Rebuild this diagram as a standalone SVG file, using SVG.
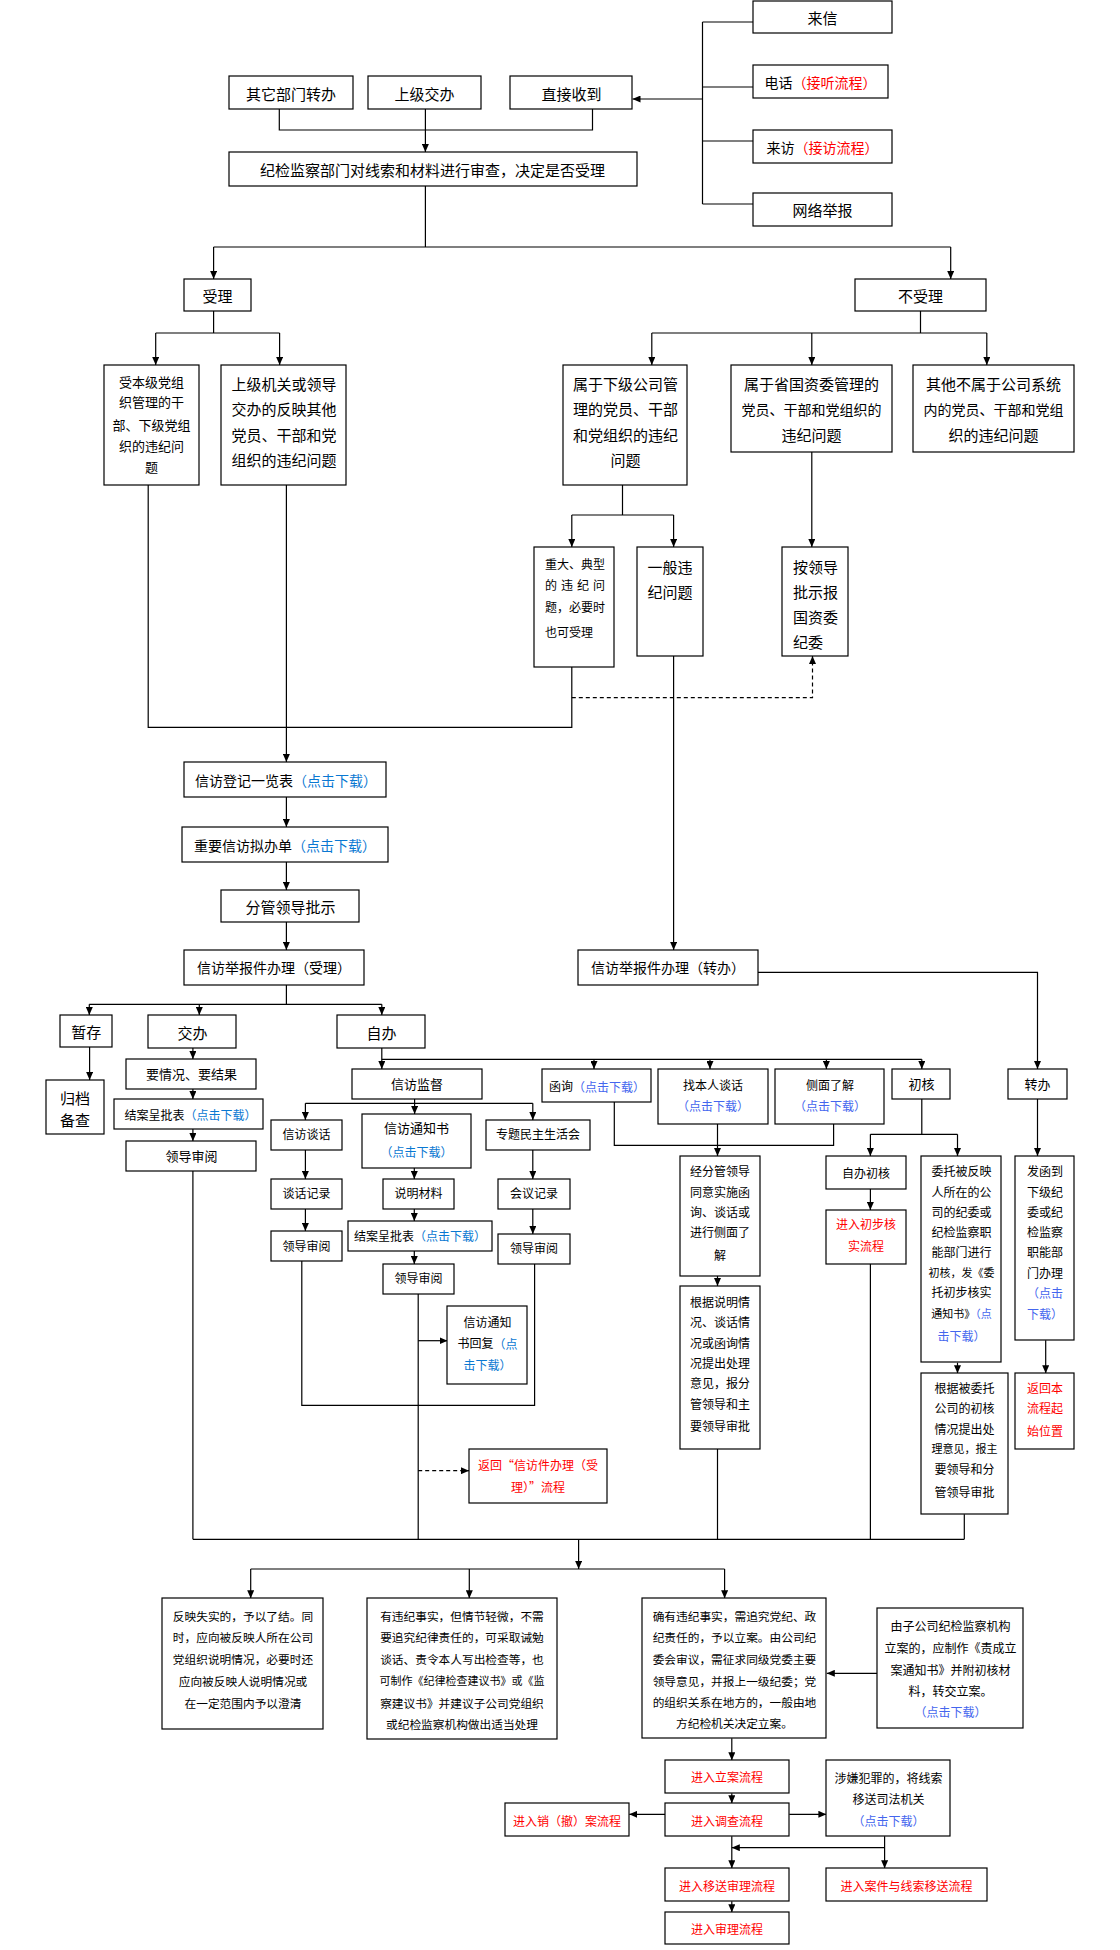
<svg xmlns="http://www.w3.org/2000/svg" width="1120" height="1950" viewBox="0 0 1120 1950">
<style>
.b{fill:#fff;stroke:#000;stroke-width:1.2}
.c{fill:none;stroke:#000;stroke-width:1.2}
.a{marker-end:url(#ah)}
.d{stroke-dasharray:4 3}
text{font-family:"Noto Sans CJK SC","Microsoft YaHei",sans-serif;fill:#000;dominant-baseline:central;text-anchor:middle}
.l{text-anchor:start}
.s15{font-size:15px}.s14{font-size:14px}.s13{font-size:13px}.s12{font-size:12px}.s11{font-size:11.7px}.s10{font-size:11px}
.r{fill:#f00}.u{fill:#0a78d2}.v{fill:#4466ee}
</style>
<defs>
<marker id="ah" viewBox="0 0 10 10" refX="10" refY="5" markerWidth="8" markerHeight="7" markerUnits="userSpaceOnUse" orient="auto" preserveAspectRatio="none"><path d="M0,0 L10,5 L0,10 z" fill="#000"/></marker>
</defs>
<rect width="1120" height="1950" fill="#fff"/>

<g id="connectors">
<path class="c" d="M702.5,22 V204 M702.5,22 H753 M702.5,87 H753 M702.5,141 H753 M702.5,204 H753"/>
<path class="c a" d="M702.5,99 H632.5"/>
<path class="c" d="M279.3,109 V130 H592.5 V109"/>
<path class="c a" d="M425.4,109 V152"/>
<path class="c" d="M425.4,186 V247 M213.6,247 H950.7"/>
<path class="c a" d="M213.6,247 V279"/>
<path class="c a" d="M950.7,247 V279"/>
<path class="c" d="M213.6,311 V333 M155.7,333 H279.6"/>
<path class="c a" d="M155.7,333 V365"/>
<path class="c a" d="M279.6,333 V365"/>
<path class="c" d="M920.5,311 V333 M651.8,333 H986.8"/>
<path class="c a" d="M651.8,333 V365"/>
<path class="c a" d="M811.8,333 V365"/>
<path class="c a" d="M986.8,333 V365"/>
<path class="c" d="M622.5,485 V515 M571.8,515 H673.6"/>
<path class="c a" d="M571.8,515 V547"/>
<path class="c a" d="M673.6,515 V547"/>
<path class="c a" d="M811.8,452 V547"/>
<path class="c" d="M148.2,485 V727.3 H571.8 V667"/>
<path class="c d a" d="M571.8,697.7 H812.5 V656"/>
<path class="c a" d="M286.4,485 V762"/>
<path class="c a" d="M286.4,797 V827"/>
<path class="c a" d="M286.4,862 V890"/>
<path class="c a" d="M286.4,922 V950"/>
<path class="c a" d="M673.6,656 V950"/>
<path class="c a" d="M758,972.3 H1037.5 V1069"/>
<path class="c" d="M286.4,985 V1004.3 M89.3,1004.3 H381.8"/>
<path class="c a" d="M89.3,1004.3 V1015"/>
<path class="c a" d="M199.3,1004.3 V1015"/>
<path class="c a" d="M381.8,1004.3 V1015"/>
<path class="c a" d="M89.6,1047 V1080"/>
<path class="c a" d="M192.9,1048 V1059"/>
<path class="c a" d="M192.9,1089 V1099"/>
<path class="c a" d="M192.9,1129 V1141"/>
<path class="c" d="M192.9,1171 V1539.3"/>
<path class="c a" d="M381.8,1048 V1069"/>
<path class="c" d="M381.8,1059.3 H921.8"/>
<path class="c a" d="M594,1059.3 V1069"/>
<path class="c a" d="M710,1059.3 V1069"/>
<path class="c a" d="M826.4,1059.3 V1069"/>
<path class="c a" d="M921.8,1059.3 V1069"/>
<path class="c" d="M414.6,1099 V1103.3 M305.4,1103.3 H532.8"/>
<path class="c a" d="M305.4,1103.3 V1120"/>
<path class="c a" d="M414.6,1103.3 V1114"/>
<path class="c a" d="M532.8,1103.3 V1120"/>
<path class="c a" d="M305.4,1150 V1179"/>
<path class="c a" d="M414.3,1168 V1179"/>
<path class="c a" d="M532.8,1150 V1179"/>
<path class="c a" d="M305.4,1209 V1231"/>
<path class="c a" d="M414.3,1209 V1221"/>
<path class="c a" d="M532.8,1209 V1234"/>
<path class="c a" d="M414.3,1251 V1264"/>
<path class="c" d="M301.8,1261 V1405.3 H534.6 V1264"/>
<path class="c" d="M418.2,1294 V1539.3"/>
<path class="c a" d="M418.2,1340.7 H447.5"/>
<path class="c d a" d="M418.2,1470.7 H469"/>
<path class="c" d="M614.3,1102 V1145.3 H833.6 V1124"/>
<path class="c a" d="M717.5,1124 V1156"/>
<path class="c a" d="M717.5,1276 V1286"/>
<path class="c" d="M717.5,1449 V1539.3"/>
<path class="c" d="M921.8,1099 V1134.3 M870.4,1134.3 H957.5"/>
<path class="c a" d="M870.4,1134.3 V1156"/>
<path class="c a" d="M957.5,1134.3 V1156"/>
<path class="c a" d="M870.4,1189 V1210"/>
<path class="c" d="M870.4,1264 V1539.3"/>
<path class="c a" d="M957.5,1362.7 V1373.3"/>
<path class="c" d="M964.3,1514.3 V1539.3"/>
<path class="c a" d="M1037.5,1099 V1156"/>
<path class="c a" d="M1045.7,1340.3 V1373.3"/>
<path class="c" d="M192.9,1539.3 H964.3"/>
<path class="c a" d="M578.6,1539.3 V1569"/>
<path class="c" d="M250.7,1569 H724.6"/>
<path class="c a" d="M250.7,1569 V1598.3"/>
<path class="c a" d="M469.3,1569 V1598.3"/>
<path class="c a" d="M724.6,1569 V1598.3"/>
<path class="c a" d="M877.5,1673.3 H826.8"/>
<path class="c a" d="M731.8,1738.3 V1760.3"/>
<path class="c a" d="M731.8,1793.3 V1803.3"/>
<path class="c a" d="M665.4,1814.3 H629.3"/>
<path class="c a" d="M789.3,1814.3 H826.4"/>
<path class="c a" d="M731.8,1836.3 V1868.3"/>
<path class="c a" d="M884.6,1836.3 V1868.3"/>
<path class="c a" d="M884.6,1847.7 H731.8"/>
<path class="c a" d="M731.8,1901.3 V1912.3"/>
</g>

<g id="n_laixin"><rect class="b" x="753" y="1" width="139" height="32"/><text class="s15" x="822.5" y="17">来信</text></g>
<g id="n_dianhua"><rect class="b" x="753" y="65" width="135" height="33"/><text class="s14" x="820.5" y="82">电话<tspan class="r">（接听流程）</tspan></text></g>
<g id="n_laifang"><rect class="b" x="753" y="130" width="139" height="33"/><text class="s14" x="822.5" y="147">来访<tspan class="r">（接访流程）</tspan></text></g>
<g id="n_wangluo"><rect class="b" x="753" y="193" width="139" height="33"/><text class="s15" x="822.5" y="209.5">网络举报</text></g>
<g id="n_qita"><rect class="b" x="229" y="76" width="124" height="33"/><text class="s15" x="291" y="93">其它部门转办</text></g>
<g id="n_shangji"><rect class="b" x="368" y="76" width="113" height="33"/><text class="s15" x="424.5" y="93">上级交办</text></g>
<g id="n_zhijie"><rect class="b" x="510" y="76" width="122" height="33"/><text class="s15" x="571.5" y="93">直接收到</text></g>
<g id="n_shencha"><rect class="b" x="229" y="152" width="408" height="34"/><text class="s15" x="432.5" y="169">纪检监察部门对线索和材料进行审查，决定是否受理</text></g>
<g id="n_shouli"><rect class="b" x="184" y="279" width="67" height="32"/><text class="s15" x="217.5" y="295.3">受理</text></g>
<g id="n_bushouli"><rect class="b" x="855" y="279" width="131" height="32"/><text class="s15" x="920.5" y="295.3">不受理</text></g>

<g id="n_benji"><rect class="b" x="104" y="365" width="95" height="120"/>
<text class="s13" x="151.5" y="381.7">受本级党组</text><text class="s13" x="151.5" y="401.7">织管理的干</text><text class="s13" x="151.5" y="424.3">部、下级党组</text><text class="s13" x="151.5" y="445">织的违纪问</text><text class="s13" x="151.5" y="466.7">题</text></g>
<g id="n_shangjijiguan"><rect class="b" x="221" y="365" width="125" height="120"/>
<text class="s15" x="284" y="383">上级机关或领导</text><text class="s15" x="284" y="408.5">交办的反映其他</text><text class="s15" x="284" y="434">党员、干部和党</text><text class="s15" x="284" y="459">组织的违纪问题</text></g>
<g id="n_xiaji"><rect class="b" x="563" y="365" width="124" height="120"/>
<text class="s15" x="625.5" y="383">属于下级公司管</text><text class="s15" x="625.5" y="408.5">理的党员、干部</text><text class="s15" x="625.5" y="434">和党组织的违纪</text><text class="s15" x="625.5" y="459">问题</text></g>
<g id="n_sheng"><rect class="b" x="731" y="365" width="161" height="87"/>
<text class="s15" x="811.5" y="383">属于省国资委管理的</text><text class="s14" x="811.5" y="408.5">党员、干部和党组织的</text><text class="s15" x="811.5" y="434">违纪问题</text></g>
<g id="n_qitabushu"><rect class="b" x="913" y="365" width="161" height="87"/>
<text class="s15" x="993.5" y="383">其他不属于公司系统</text><text class="s14" x="993.5" y="408.5">内的党员、干部和党组</text><text class="s15" x="993.5" y="434">织的违纪问题</text></g>
<g id="n_zhongda"><rect class="b" x="534" y="547" width="80" height="120"/>
<text class="s12 l" x="545" y="563" textLength="60" lengthAdjust="spacing">重大、典型</text><text class="s12 l" x="545" y="584.5" textLength="60" lengthAdjust="spacing">的 违 纪 问</text><text class="s12 l" x="545" y="606" textLength="60" lengthAdjust="spacing">题，必要时</text><text class="s12 l" x="545" y="631">也可受理</text></g>
<g id="n_yiban"><rect class="b" x="637" y="547" width="66" height="109"/>
<text class="s15 l" x="647.5" y="566">一般违</text><text class="s15 l" x="647.5" y="591">纪问题</text></g>
<g id="n_anlingdao"><rect class="b" x="782" y="547" width="66" height="109"/>
<text class="s15 l" x="793" y="566">按领导</text><text class="s15 l" x="793" y="591">批示报</text><text class="s15 l" x="793" y="616">国资委</text><text class="s15 l" x="793" y="641">纪委</text></g>

<g id="n_dengji"><rect class="b" x="184" y="762" width="202" height="35"/><text class="s14" x="286" y="780">信访登记一览表<tspan class="u">（点击下载）</tspan></text></g>
<g id="n_nibandan"><rect class="b" x="182" y="827" width="206" height="35"/><text class="s14" x="285" y="845">重要信访拟办单<tspan class="u">（点击下载）</tspan></text></g>
<g id="n_pishi"><rect class="b" x="221" y="890" width="138" height="32"/><text class="s15" x="290.5" y="906.7">分管领导批示</text></g>
<g id="n_banli_shouli"><rect class="b" x="184" y="950" width="180" height="35"/><text class="s14" x="274" y="967.3">信访举报件办理（受理）</text></g>
<g id="n_banli_zhuanban"><rect class="b" x="578" y="950" width="180" height="35"/><text class="s14" x="668" y="967.3">信访举报件办理（转办）</text></g>

<g id="n_zancun"><rect class="b" x="60" y="1015" width="52" height="32"/><text class="s15" x="86.3" y="1031.7">暂存</text></g>
<g id="n_jiaoban"><rect class="b" x="148" y="1015" width="88" height="33"/><text class="s15" x="192.5" y="1032">交办</text></g>
<g id="n_ziban"><rect class="b" x="337" y="1015" width="88" height="33"/><text class="s15" x="381.6" y="1032">自办</text></g>
<g id="n_guidang"><rect class="b" x="46" y="1080" width="58" height="54"/><text class="s15 l" x="60" y="1097">归档</text><text class="s15 l" x="60" y="1119">备查</text></g>
<g id="n_yaoqingkuang"><rect class="b" x="126" y="1059" width="130" height="30"/><text class="s13" x="191.5" y="1073.5">要情况、要结果</text></g>
<g id="n_jiean1"><rect class="b" x="114" y="1099" width="149" height="30"/><text class="s12" x="190.5" y="1114">结案呈批表<tspan class="u">（点击下载）</tspan></text></g>
<g id="n_shenyue0"><rect class="b" x="126" y="1141" width="130" height="30"/><text class="s13" x="191.5" y="1155.5">领导审阅</text></g>

<g id="n_jiandu"><rect class="b" x="352" y="1069" width="130" height="30"/><text class="s13" x="417" y="1083.5">信访监督</text></g>
<g id="n_tanhua"><rect class="b" x="271" y="1120" width="71" height="30"/><text class="s12" x="306.5" y="1133.5">信访谈话</text></g>
<g id="n_tongzhishu"><rect class="b" x="362" y="1114" width="109" height="54"/><text class="s13" x="416.5" y="1127.7">信访通知书</text><text class="s12 u" x="416.5" y="1151.3">（点击下载）</text></g>
<g id="n_minzhu"><rect class="b" x="486" y="1120" width="104" height="30"/><text class="s12" x="538" y="1133.5">专题民主生活会</text></g>
<g id="n_tanhuajilu"><rect class="b" x="271" y="1179" width="71" height="30"/><text class="s12" x="306.5" y="1192.7">谈话记录</text></g>
<g id="n_shuoming"><rect class="b" x="383" y="1179" width="71" height="30"/><text class="s12" x="418.5" y="1192.7">说明材料</text></g>
<g id="n_huiyi"><rect class="b" x="498" y="1179" width="72" height="30"/><text class="s12" x="534" y="1192.7">会议记录</text></g>
<g id="n_shenyue1"><rect class="b" x="271" y="1231" width="71" height="30"/><text class="s12" x="306.5" y="1245">领导审阅</text></g>
<g id="n_jiean2"><rect class="b" x="348" y="1221" width="144" height="30"/><text class="s12" x="420" y="1235">结案呈批表<tspan class="u">（点击下载）</tspan></text></g>
<g id="n_shenyue3"><rect class="b" x="498" y="1234" width="72" height="30"/><text class="s12" x="534" y="1247.3">领导审阅</text></g>
<g id="n_shenyue2"><rect class="b" x="383" y="1264" width="71" height="30"/><text class="s12" x="418.5" y="1277.3">领导审阅</text></g>
<g id="n_huifu"><rect class="b" x="447" y="1306" width="80" height="78"/><text class="s12" x="487.5" y="1321">信访通知</text><text class="s12" x="487.5" y="1342.7">书回复<tspan class="u">（点</tspan></text><text class="s12 u" x="487.5" y="1364.3">击下载）</text></g>
<g id="n_fanhui1"><rect class="b" x="469" y="1449" width="138" height="54"/><text class="s12 r" x="538" y="1464">返回“信访件办理（受</text><text class="s12 r" x="538" y="1486">理）”流程</text></g>

<g id="n_hanxun"><rect class="b" x="542" y="1069" width="109" height="33"/><text class="s12" x="597" y="1085.7">函询<tspan class="v">（点击下载）</tspan></text></g>
<g id="n_zhaoben"><rect class="b" x="658" y="1069" width="110" height="55"/><text class="s12" x="713" y="1084">找本人谈话</text><text class="s12 v" x="713" y="1105">（点击下载）</text></g>
<g id="n_cemian"><rect class="b" x="775" y="1069" width="109" height="55"/><text class="s12" x="830" y="1084">侧面了解</text><text class="s12 v" x="830" y="1105">（点击下载）</text></g>
<g id="n_chuhe"><rect class="b" x="892" y="1069" width="58" height="30"/><text class="s13" x="921.5" y="1083.5">初核</text></g>
<g id="n_zhuanban"><rect class="b" x="1008" y="1069" width="59" height="30"/><text class="s13" x="1037.5" y="1083.5">转办</text></g>
<g id="n_jingfenguan"><rect class="b" x="680" y="1156" width="80" height="120"/>
<text class="s12" x="720" y="1170.7">经分管领导</text><text class="s12" x="720" y="1191.7">同意实施函</text><text class="s12" x="720" y="1211.7">询、谈话或</text><text class="s12" x="720" y="1231.7">进行侧面了</text><text class="s12" x="720" y="1254.3">解</text></g>
<g id="n_genjushuoming"><rect class="b" x="680" y="1286" width="80" height="163"/>
<text class="s12" x="720" y="1301">根据说明情</text><text class="s12" x="720" y="1321.5">况、谈话情</text><text class="s12" x="720" y="1342">况或函询情</text><text class="s12" x="720" y="1362">况提出处理</text><text class="s12" x="720" y="1382">意见，报分</text><text class="s12" x="720" y="1403">管领导和主</text><text class="s12" x="720" y="1425.7">要领导审批</text></g>
<g id="n_zibanchuhe"><rect class="b" x="826" y="1156" width="80" height="33"/><text class="s12" x="866" y="1172.7">自办初核</text></g>
<g id="n_chubuhesh"><rect class="b" x="826" y="1210" width="80" height="54"/><text class="s12 r" x="866" y="1223.3">进入初步核</text><text class="s12 r" x="866" y="1245">实流程</text></g>
<g id="n_weituo"><rect class="b" x="921" y="1156" width="80" height="206"/>
<text class="s12" x="961.5" y="1170.7">委托被反映</text><text class="s12" x="961.5" y="1191.2">人所在的公</text><text class="s12" x="961.5" y="1211.2">司的纪委或</text><text class="s12" x="961.5" y="1231.2">纪检监察职</text><text class="s12" x="961.5" y="1251.2">能部门进行</text><text class="s10" x="961.5" y="1271.7">初核，发《委</text><text class="s12" x="961.5" y="1291.7">托初步核实</text><text class="s10" x="961.5" y="1312.5">通知书》<tspan class="v">（点</tspan></text><text class="s12 v" x="961.5" y="1335.7">击下载）</text></g>
<g id="n_genjuweituo"><rect class="b" x="921" y="1373" width="87" height="141"/>
<text class="s12" x="964.5" y="1387.7">根据被委托</text><text class="s12" x="964.5" y="1407.7">公司的初核</text><text class="s12" x="964.5" y="1428">情况提出处</text><text class="s10" x="964.5" y="1448.3">理意见，报主</text><text class="s12" x="964.5" y="1468.7">要领导和分</text><text class="s12" x="964.5" y="1491.7">管领导审批</text></g>
<g id="n_fahan"><rect class="b" x="1015" y="1156" width="59" height="184"/>
<text class="s12" x="1045" y="1170.7">发函到</text><text class="s12" x="1045" y="1191.7">下级纪</text><text class="s12" x="1045" y="1211.7">委或纪</text><text class="s12" x="1045" y="1231.7">检监察</text><text class="s12" x="1045" y="1251.7">职能部</text><text class="s12" x="1045" y="1272.7">门办理</text><text class="s12 v" x="1045" y="1292.7">（点击</text><text class="s12 v" x="1045" y="1313.3">下载）</text></g>
<g id="n_fanhui2"><rect class="b" x="1015" y="1373" width="59" height="76"/>
<text class="s12 r" x="1045" y="1387.7">返回本</text><text class="s12 r" x="1045" y="1407.7">流程起</text><text class="s12 r" x="1045" y="1430">始位置</text></g>

<g id="n_shishi"><rect class="b" x="162" y="1598" width="161" height="131"/>
<text class="s11" x="243" y="1615">反映失实的，予以了结。同</text><text class="s11" x="243" y="1636.7">时，应向被反映人所在公司</text><text class="s11" x="243" y="1658.3">党组织说明情况，必要时还</text><text class="s11" x="243" y="1680">应向被反映人说明情况或</text><text class="s11" x="243" y="1702.3">在一定范围内予以澄清</text></g>
<g id="n_qingwei"><rect class="b" x="367" y="1598" width="190" height="141"/>
<text class="s11" x="462" y="1615">有违纪事实，但情节轻微，不需</text><text class="s11" x="462" y="1636.7">要追究纪律责任的，可采取诫勉</text><text class="s11" x="462" y="1658.3">谈话、责令本人写出检查等，也</text><text class="s10" x="462" y="1680">可制作《纪律检查建议书》或《监</text><text class="s11" x="462" y="1702">察建议书》并建议子公司党组织</text><text class="s11" x="462" y="1723">或纪检监察机构做出适当处理</text></g>
<g id="n_queyou"><rect class="b" x="642" y="1598" width="184" height="140"/>
<text class="s11" x="734.5" y="1615">确有违纪事实，需追究党纪、政</text><text class="s11" x="734.5" y="1636.7">纪责任的，予以立案。由公司纪</text><text class="s11" x="734.5" y="1658.3">委会审议，需征求同级党委主要</text><text class="s11" x="734.5" y="1680">领导意见，并报上一级纪委；党</text><text class="s11" x="734.5" y="1701.7">的组织关系在地方的，一般由地</text><text class="s11" x="734.5" y="1722.7">方纪检机关决定立案。</text></g>
<g id="n_zigongsi"><rect class="b" x="877" y="1608" width="146" height="120"/>
<text class="s12" x="950.5" y="1625.7">由子公司纪检监察机构</text><text class="s12" x="950.5" y="1647">立案的，应制作《责成立</text><text class="s12" x="950.5" y="1669">案通知书》并附初核材</text><text class="s12" x="950.5" y="1690.7">料，转交立案。</text><text class="s12 v" x="950.5" y="1711.7">（点击下载）</text></g>
<g id="n_lian"><rect class="b" x="665" y="1760" width="124" height="33"/><text class="s12 r" x="727" y="1776.7">进入立案流程</text></g>
<g id="n_diaocha"><rect class="b" x="665" y="1803" width="124" height="33"/><text class="s12 r" x="727" y="1820.7">进入调查流程</text></g>
<g id="n_xiaoan"><rect class="b" x="505" y="1803" width="124" height="33"/><text class="s12 r" x="567" y="1820.7">进入销（撤）案流程</text></g>
<g id="n_fanzui"><rect class="b" x="826" y="1760" width="124" height="76"/><text class="s12" x="888.5" y="1777.7">涉嫌犯罪的，将线索</text><text class="s12" x="888.5" y="1798.7">移送司法机关</text><text class="s12 v" x="888.5" y="1820.7">（点击下载）</text></g>
<g id="n_yisongshenli"><rect class="b" x="665" y="1868" width="124" height="33"/><text class="s12 r" x="727" y="1885.7">进入移送审理流程</text></g>
<g id="n_xiansuoyisong"><rect class="b" x="826" y="1868" width="161" height="33"/><text class="s12 r" x="906.5" y="1885.7">进入案件与线索移送流程</text></g>
<g id="n_shenli"><rect class="b" x="665" y="1912" width="124" height="32"/><text class="s12 r" x="727" y="1928.3">进入审理流程</text></g>
</svg>
